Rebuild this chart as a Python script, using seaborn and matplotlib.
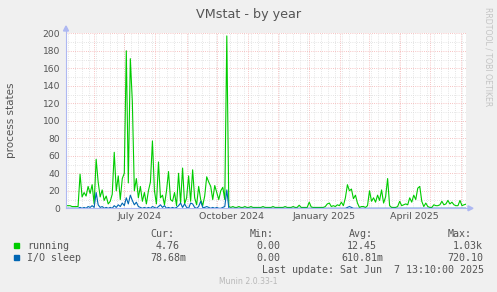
import numpy as np
import pandas as pd
import matplotlib
matplotlib.use("Agg")
import matplotlib.pyplot as plt
import seaborn as sns
from matplotlib.patches import Rectangle, Polygon
from matplotlib.lines import Line2D

# ---------------- data (2-day samples starting 2024-05-04) ----------------
start_date = "2024-05-04"
running = [
    3, 3, 3, 2, 2, 2, 2, 39, 13, 18, 14, 25, 17, 27, 5, 56, 30, 13, 21, 9,
    14, 5, 8, 16, 64, 20, 37, 10, 34, 40, 180, 29, 171, 122, 20, 34, 12, 25, 8, 18,
    5, 20, 30, 77, 20, 5, 53, 12, 15, 4, 20, 42, 10, 8, 18, 3, 40, 6, 46, 5,
    12, 37, 8, 44, 12, 4, 25, 10, 3, 14, 36, 30, 25, 10, 26, 18, 10, 20, 24, 10,
    197, 2, 1, 2, 1, 1, 2, 1, 1, 2, 1, 1, 2, 1, 1, 1, 1, 1, 2, 1,
    1, 1, 1, 2, 1, 1, 1, 1, 1, 2, 1, 1, 1, 2, 1, 1, 3.5, 1, 1, 1,
    1, 7, 1.5, 1, 1, 1, 1, 1, 1, 2, 5, 6, 2, 3, 2, 4, 3, 7, 3, 12,
    27, 20, 22, 11, 15, 6, 1, 2, 2, 1, 3, 20, 8, 12, 7, 15, 9, 21, 6, 13,
    34, 3, 1, 1, 1, 2, 8, 3, 4, 5, 4, 12, 7, 15, 10, 23, 25, 8, 2, 6,
    2, 1, 1, 4, 3, 3, 4, 8, 4, 5, 9, 5, 7, 4, 3, 3, 9, 3, 4, 4.76,
]
io_sleep = [
    0, 0, 0, 0, 0, 0, 0, 1, 0, 1, 0, 2, 1, 3, 1, 18, 4, 1, 2, 0,
    1, 0, 1, 0, 3, 1, 4, 2, 6, 3, 12, 5, 15, 9, 4, 7, 2, 1, 0, 1,
    0, 1, 0, 2, 1, 0, 2, 4, 1, 3, 0, 1, 0, 1, 0, 1, 3, 6, 1, 5,
    1, 0, 6, 5, 1, 0, 2, 8, 1, 1, 2, 1, 0, 1, 0, 1, 0, 0, 1, 2,
    21, 0, 0, 0, 0, 0, 0, 0, 0, 0, 0, 0, 0, 0, 0, 0, 0, 0, 0, 0,
    0, 0, 0, 0, 0, 0, 0, 0, 0, 0, 0, 0, 0, 0, 0, 0, 0, 0, 0, 0,
    0, 0, 0, 0, 0, 0, 0, 0, 0, 0, 0, 0, 0, 0, 0, 0, 0, 0, 0, 0,
    1, 2, 1, 0, 0, 0, 0, 0, 0, 0, 0, 0, 0, 0, 0, 0, 0, 0, 0, 0,
    0, 0, 0, 0, 0, 0, 0, 0, 0, 0, 0, 0, 0, 0, 0, 0, 0, 0, 0, 0,
    0, 0, 0, 0, 0, 0, 0, 0, 0, 0, 0, 0, 0, 0, 0, 0, 0, 0, 0, 0.08,
]
series_names = ["running", "I/O sleep"]
series_colors = ["#00CC00", "#0066B3"]
y_ticks = list(range(0, 201, 20))
x_labels = ["July 2024", "October 2024", "January 2025", "April 2025"]
x_label_dates = ["2024-07-16", "2024-10-16", "2025-01-16", "2025-04-16"]
legend_cur = ["4.76", "78.68m"]
legend_min = ["0.00", "0.00"]
legend_avg = ["12.45", "610.81m"]
legend_max = ["1.03k", "720.10"]
title = "VMstat - by year"
ylabel = "process states"
last_update = "Last update: Sat Jun  7 13:10:00 2025"
munin_ver = "Munin 2.0.33-1"
rrd_credit = "RRDTOOL / TOBI OETIKER"

# ---------------- figure ----------------
W, H = 497, 292
plt.rcParams["font.family"] = ["DejaVu Sans"]
fig = plt.figure(figsize=(W / 100, H / 100), dpi=100, facecolor="#F0F0F0")

def fx(x):
    return x / W

def fy(y):
    return 1 - y / H

L, R, T, B = 66, 466, 33.3, 208.3
ax = fig.add_axes([fx(L), fy(B), (R - L) / W, (B - T) / H])
ax.set_facecolor("white")

dates = pd.date_range(start_date, periods=len(running), freq="2D")
df = pd.DataFrame({
    "date": list(dates) * 2,
    "value": running + io_sleep,
    "series": [series_names[0]] * len(running) + [series_names[1]] * len(io_sleep),
})

x0 = pd.Timestamp("2024-05-04")
x1 = pd.Timestamp("2025-06-06")

# grid (dotted, rrdtool style)
grid_minor = "#DCDCDC"
grid_major = "#F4AFAF"
dot = (0, (1, 1.6))
for d in pd.date_range(x0, x1, freq="W-MON"):
    ax.axvline(d, color=grid_minor, lw=0.6, ls=dot, zorder=0)
for v in range(10, 201, 20):
    ax.axhline(v, color=grid_minor, lw=0.6, ls=dot, zorder=0)
for d in pd.date_range("2024-06-01", x1, freq="MS"):
    ax.axvline(d, color=grid_major, lw=0.6, ls=dot, zorder=0.5)
for v in y_ticks[1:]:
    ax.axhline(v, color=grid_major, lw=0.6, ls=dot, zorder=0.5)

sns.lineplot(data=df, x="date", y="value", hue="series",
             hue_order=series_names,
             palette=dict(zip(series_names, series_colors)),
             linewidth=0.8, estimator=None, legend=False, ax=ax, zorder=3)

ax.set_xlim(x0, x1)
ax.set_ylim(0, 200)
for s in ax.spines.values():
    s.set_visible(False)
ax.set_xlabel("")
ax.set_ylabel("")
txt_col = "#555555"
ax.set_yticks(y_ticks)
ax.set_yticklabels([str(v) for v in y_ticks])
ax.tick_params(axis="y", length=0, pad=4.3, labelsize=6.6, labelcolor=txt_col)
ax.set_xticks(pd.to_datetime(x_label_dates))
ax.set_xticklabels(x_labels)
ax.tick_params(axis="x", length=0, pad=2.4, labelsize=6.8, labelcolor=txt_col)

# axes with arrows
axis_col = "#AEB8F2"
fig.add_artist(Line2D([fx(L), fx(L)], [fy(B), fy(29)], color=axis_col, lw=0.8))
fig.add_artist(Line2D([fx(L), fx(469)], [fy(B), fy(B)], color=axis_col, lw=0.8))
fig.add_artist(Polygon([[fx(63.5), fy(31)], [fx(68.5), fy(31)], [fx(66), fy(26)]],
                       closed=True, color=axis_col, transform=fig.transFigure))
fig.add_artist(Polygon([[fx(468), fy(205.8)], [fx(468), fy(210.8)], [fx(473), fy(B)]],
                       closed=True, color=axis_col, transform=fig.transFigure))

# texts
fig.text(fx(248.5), fy(18.3), title, ha="center", va="baseline",
         fontsize=9.2, color="#555555")
fig.text(fx(11), fy(120), ylabel, rotation=90, ha="center", va="center",
         fontsize=7.5, color=txt_col)
fig.text(fx(488), fy(56.5), rrd_credit, rotation=270, ha="center", va="center",
         fontsize=5.6, color="#C4C4C4")

mono = "DejaVu Sans Mono"
fs = 7.2
col_x = [150, 250, 349, 448]
for hx, ht in zip(col_x, ["Cur:", "Min:", "Avg:", "Max:"]):
    fig.text(fx(hx), fy(237.3), ht, family=mono, fontsize=fs, color=txt_col, va="baseline")

row_base = [248.6, 260.6]
cur_x = [156, 150]
min_x = [256, 256]
avg_x = [347, 341]
max_x = [453, 447]
for i, name in enumerate(series_names):
    yb = row_base[i]
    fig.add_artist(Rectangle((fx(14), fy(yb - 0.8)), 5 / W, 5 / H,
                             transform=fig.transFigure, color=series_colors[i]))
    fig.text(fx(27), fy(yb), name, family=mono, fontsize=fs, color=txt_col, va="baseline")
    fig.text(fx(cur_x[i]), fy(yb), legend_cur[i], family=mono, fontsize=fs, color=txt_col, va="baseline")
    fig.text(fx(min_x[i]), fy(yb), legend_min[i], family=mono, fontsize=fs, color=txt_col, va="baseline")
    fig.text(fx(avg_x[i]), fy(yb), legend_avg[i], family=mono, fontsize=fs, color=txt_col, va="baseline")
    fig.text(fx(max_x[i]), fy(yb), legend_max[i], family=mono, fontsize=fs, color=txt_col, va="baseline")

fig.text(fx(483.5), fy(272.8), last_update, family=mono, fontsize=fs, color=txt_col,
         va="baseline", ha="right")
fig.text(fx(248.5), fy(284.3), munin_ver, fontsize=5.6, color="#B8B8B8",
         va="baseline", ha="center")

fig.savefig("out.png", dpi=100, facecolor=fig.get_facecolor())
